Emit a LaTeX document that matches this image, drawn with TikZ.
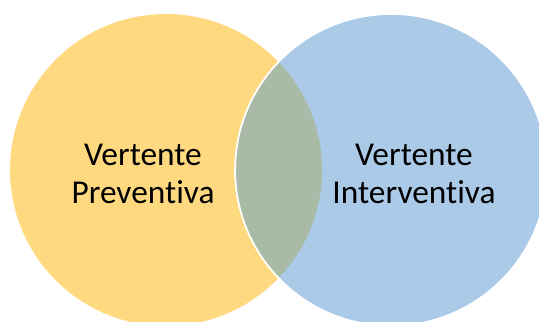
\documentclass[tikz,border=0pt]{standalone}
\usepackage{fontspec}
\setmainfont{Carlito}[Ligatures=NoCommon]
\definecolor{preventiva}{HTML}{FFD97F}
\definecolor{interventiva}{HTML}{ABCAE7}
\definecolor{both}{HTML}{A9BAA7}
\tikzstyle{set}=[circle, minimum size=6.24cm, inner sep=0pt]
\tikzstyle{set label}=[align=center, font=\fontsize{19}{22}\selectfont]
\tikzstyle{set edge}=[draw=white, line width=1pt]

\begin{document}
\begin{tikzpicture}[scale=0.02]
      \useasboundingbox (0, 0) rectangle (539, 322);
      \clip (0, 0) rectangle (539, 322);
      \node[set, fill=preventiva] (prev) at (166, 152) {};
      \node[set, fill=interventiva] (int) at (391, 152) {};
      \begin{scope}
        \clip (prev.center) circle (156);
        \fill[both] (int.center) circle (156);
      \end{scope}
      \path[set edge] (int.center) circle (156);
      \node[set label] (prev text) at (143, 148) {Vertente\\Preventiva};
      \node[set label] (int text) at (414, 148) {Vertente\\Interventiva};
    \end{tikzpicture}
\end{document}
